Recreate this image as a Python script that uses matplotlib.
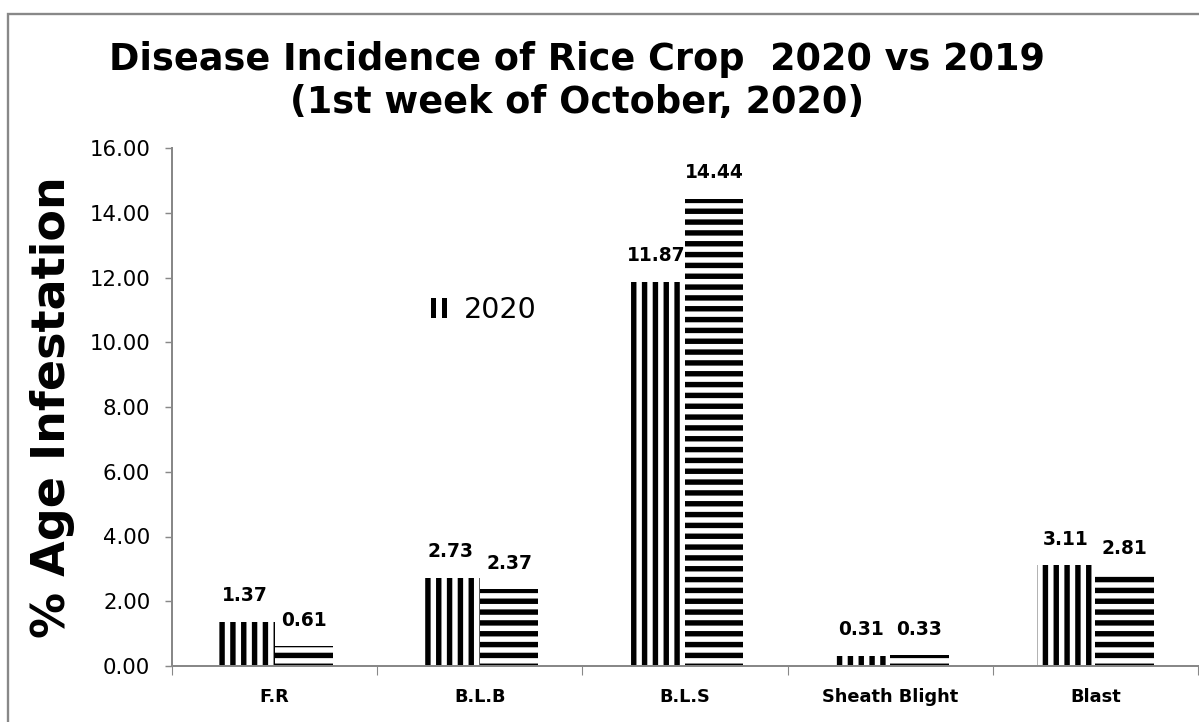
import numpy as np
import matplotlib.pyplot as plt
from matplotlib.patches import Rectangle
from matplotlib.legend_handler import HandlerBase

# data
categories = ['F.R', 'B.L.B', 'B.L.S', 'Sheath Blight', 'Blast']
y2020 = [1.37, 2.73, 11.87, 0.31, 3.11]
y2019 = [0.61, 2.37, 14.44, 0.33, 2.81]
yticks = [0, 2, 4, 6, 8, 10, 12, 14, 16]

plt.rcParams['font.family'] = 'DejaVu Sans'
plt.rcParams['hatch.linewidth'] = 3.0

DPI = 130  # '||' hatch gives ~10.8 px stripes at this dpi
fig = plt.figure(figsize=(1199 / DPI, 722 / DPI), dpi=DPI)
ax = fig.add_axes([172 / 1199, 1 - 666 / 722, 1026 / 1199, (666 - 148) / 722])

x = np.arange(len(categories))
w = 0.285
b1 = ax.bar(x - w / 2, y2020, w, color='white', edgecolor='black', linewidth=0,
            hatch='||', label='2020')
b2 = ax.bar(x + w / 2, y2019, w, color='white', edgecolor='black', linewidth=0,
            hatch='--', label='2019')

# value labels
for bars, vals in ((b1, y2020), (b2, y2019)):
    for r, v in zip(bars, vals):
        ax.annotate(f'{v:.2f}', (r.get_x() + r.get_width() / 2, v), xytext=(0, 14.5),
                    textcoords='offset points', ha='center', va='center',
                    fontsize=10.3, fontweight='bold')

ax.set_xlim(-0.5, len(categories) - 0.5)
ax.set_ylim(0, 16)
ax.set_yticks(yticks)
ax.set_yticklabels([f'{t:.2f}' for t in yticks], fontsize=11.8)
ax.set_xticks(x)
ax.set_xticklabels(categories, fontsize=9.8, fontweight='bold')
ax.tick_params(axis='x', length=0, pad=12)
ax.tick_params(axis='y', length=4, color='#888888', pad=8)
# category separators on the x axis
ax.set_xticks(np.arange(len(categories) + 1) - 0.5, minor=True)
ax.tick_params(axis='x', which='minor', length=5, color='#888888')

for s in ('top', 'right'):
    ax.spines[s].set_visible(False)
for s in ('left', 'bottom'):
    ax.spines[s].set_color('#888888')
    ax.spines[s].set_linewidth(1.1)

ax.set_ylabel('% Age Infestation', fontsize=25.5, fontweight='bold', labelpad=8)

fig.text(0.481, 1 - 60 / 722, 'Disease Incidence of Rice Crop  2020 vs 2019',
         ha='center', va='center', fontsize=20.3, fontweight='bold')
fig.text(0.481, 1 - 103 / 722, '(1st week of October, 2020)',
         ha='center', va='center', fontsize=20.3, fontweight='bold')


class TwoStripes(HandlerBase):
    # small legend key: two thick vertical stripes
    def create_artists(self, legend, orig_handle, xdescent, ydescent, width, height,
                       fontsize, trans):
        bw = width * 0.32
        return [Rectangle((-xdescent + i * (width - bw), -ydescent), bw, height,
                          facecolor='black', edgecolor='none', transform=trans)
                for i in range(2)]


# legend (only the 2020 entry shows in the original)
ax.legend(handles=[b1], handler_map={b1: TwoStripes()}, loc='center left',
          bbox_to_anchor=(245 / 1026, 1 - (310 - 148) / 518),
          frameon=False, fontsize=15.8, handlelength=0.55, handleheight=0.75,
          handletextpad=0.6, borderpad=0)

# outer frame
fig.patches.append(Rectangle((8 / 1199, -0.05), 1.1, 1 - 14 / 722 + 0.05,
                             transform=fig.transFigure, fill=False,
                             edgecolor='#888888', linewidth=1.3))

fig.savefig('out.png', dpi=DPI)
